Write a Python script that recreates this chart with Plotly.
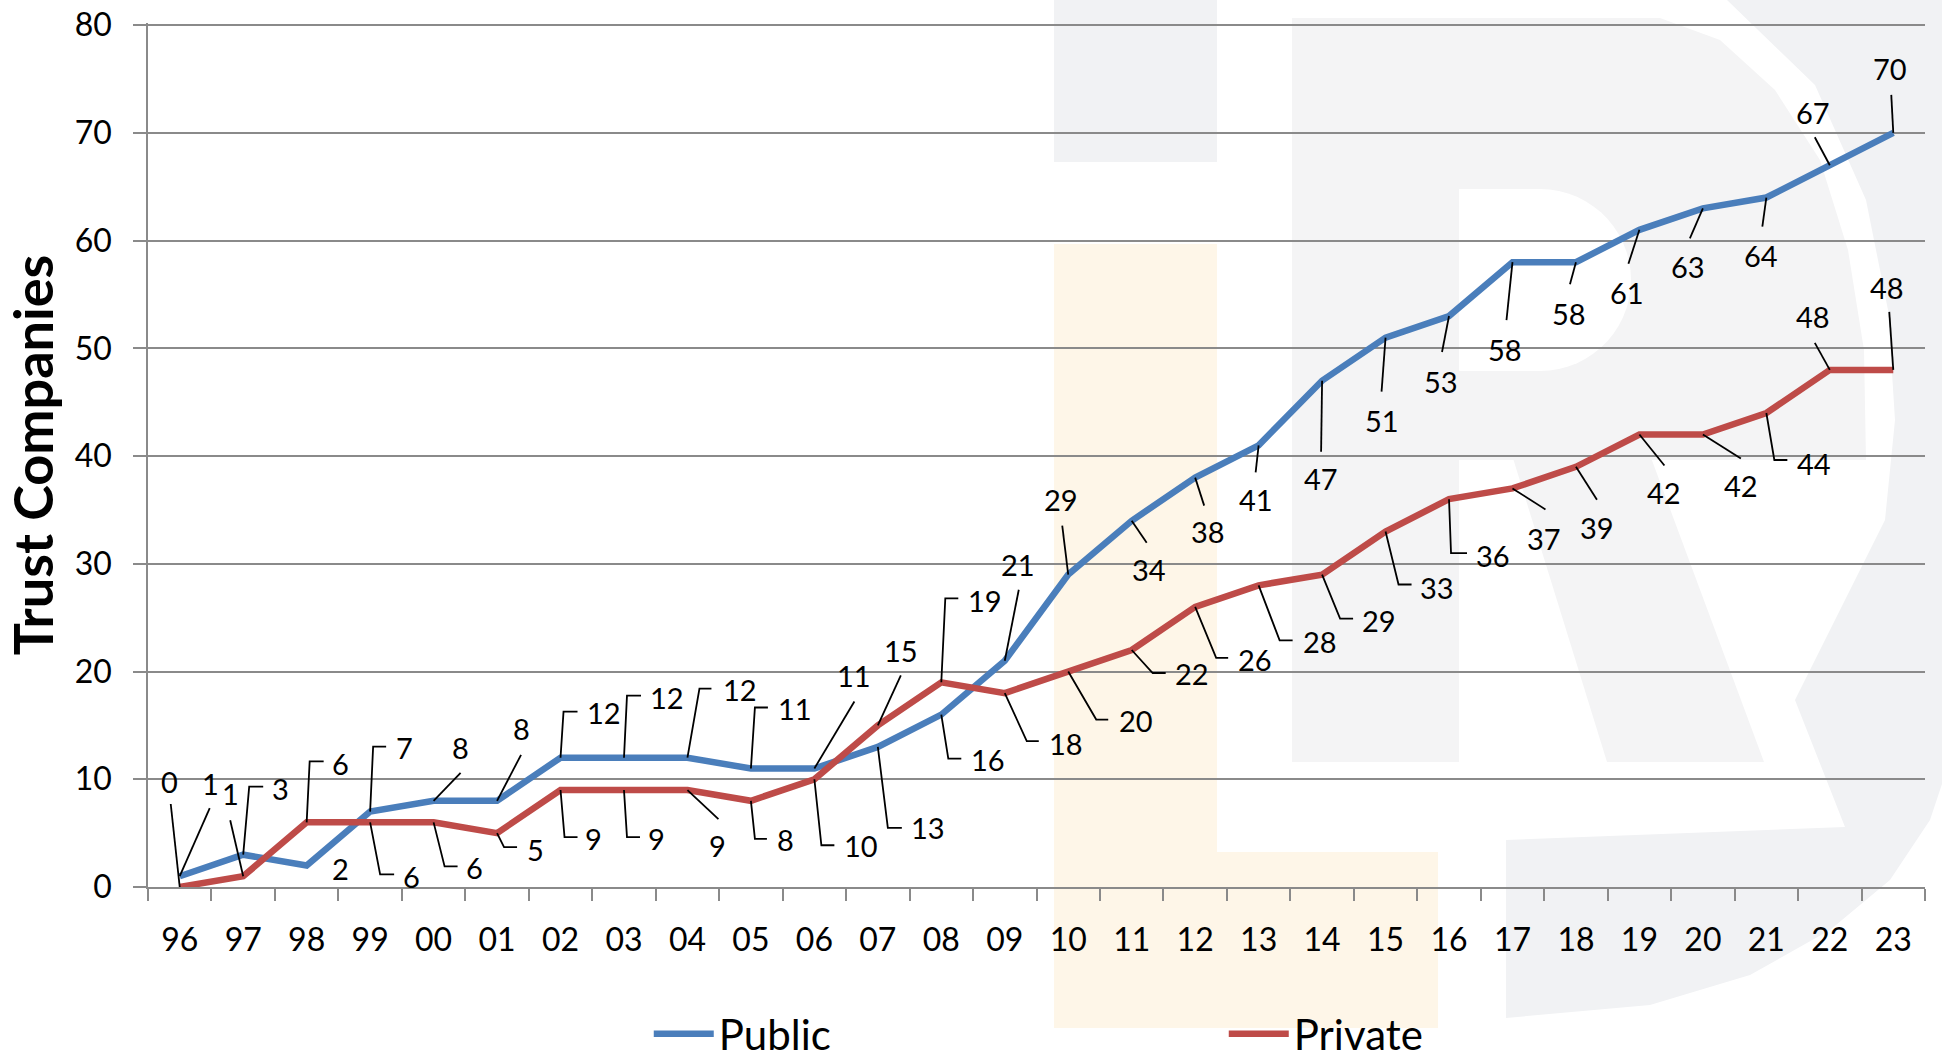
import math
import plotly.graph_objects as go

# ---------------- data ----------------
years = ["96", "97", "98", "99", "00", "01", "02", "03", "04", "05", "06", "07", "08", "09",
         "10", "11", "12", "13", "14", "15", "16", "17", "18", "19", "20", "21", "22", "23"]
public = [1, 3, 2, 7, 8, 8, 12, 12, 12, 11, 11, 13, 16, 21, 29, 34, 38, 41, 47, 51, 53, 58, 58,
          61, 63, 64, 67, 70]
private = [0, 1, 6, 6, 6, 5, 9, 9, 9, 8, 10, 15, 19, 18, 20, 22, 26, 28, 29, 33, 36, 37, 39,
           42, 42, 44, 48, 48]
y_tick_values = [0, 10, 20, 30, 40, 50, 60, 70, 80]
series_names = ["Public", "Private"]
y_title = "Trust Companies"

# ---------------- label placement (pixel offsets from each point, y down) ----------------
# (label dx, label dy, leader polyline points)
public_label_layout = [
    (31, -93, [(30, -68)]), (37, -66, [(6, -68), (20, -68)]), (34, 3, []),
    (34, -64, [(3, -65), (16, -65)]), (27, -53, [(27, -28)]), (24, -72, [(24, -46)]),
    (43, -45, [(3, -46), (17, -46)]), (43, -60, [(3, -62), (17, -62)]),
    (53, -68, [(12, -69), (24, -69)]), (44, -60, [(4, -61), (17, -61)]),
    (40, -93, [(40, -67)]), (50, 81, [(10, 81), (24, 81)]), (47, 45, [(7, 44), (20, 44)]),
    (13, -96, [(14, -71)]), (-7, -75, [(-6, -49)]), (17, 49, [(15, 22)]), (13, 54, [(9, 28)]),
    (-3, 54, [(-3, 27)]), (-1, 98, [(-1, 71)]), (-4, 83, [(-4, 54)]), (-8, 65, [(-7, 36)]),
    (-7, 87, [(-6, 58)]), (-7, 51, [(-6, 22)]), (-12, 63, [(-11, 34)]), (-15, 58, [(-13, 30)]),
    (-5, 58, [(-4, 29)]), (-17, -53, [(-15, -28)]), (-3, -64, [(-2, -38)]),
]
private_label_layout = [
    (-10, -106, [(-9, -83)]), (-13, -83, [(-13, -56)]), (34, -59, [(3, -61), (17, -61)]),
    (41, 54, [(10, 52), (24, 52)]), (41, 45, [(11, 44), (24, 44)]), (38, 16, [(7, 14), (20, 14)]),
    (33, 48, [(4, 47), (17, 47)]), (33, 48, [(3, 47), (16, 47)]), (30, 55, [(31, 29)]),
    (35, 39, [(4, 38), (16, 38)]), (47, 66, [(7, 66), (20, 66)]), (23, -75, [(23, -50)]),
    (44, -82, [(4, -84), (17, -84)]), (61, 50, [(22, 48), (34, 48)]),
    (68, 49, [(28, 48), (40, 48)]), (60, 24, [(21, 23), (34, 23)]),
    (60, 53, [(21, 51), (33, 51)]), (61, 56, [(21, 55), (34, 55)]),
    (57, 46, [(18, 44), (31, 44)]), (51, 56, [(13, 53), (26, 53)]),
    (44, 56, [(2, 54), (18, 54)]), (32, 50, [(33, 21)]), (21, 61, [(21, 33)]),
    (25, 58, [(25, 31)]), (38, 51, [(38, 24)]), (48, 51, [(8, 47), (21, 47)]),
    (-17, -53, [(-15, -27)]), (-6, -82, [(-4, -58)]),
]

# ---------------- geometry / style ----------------
W, H = 1942, 1061
ML, MR, MT, MB = 148, 17, 23, 174
PW, PH = W - ML - MR, H - MT - MB
FONT = "Lato"
BLUE = "#4A7EBB"
RED = "#BE4B48"
GRID = "#8A8A8A"

xpos = list(range(len(years)))  # position of each category on the x axis


def px2paper(x, y):
    """figure pixel -> paper coordinates"""
    return (x - ML) / PW, (H - MB - y) / PH


def poly_path(points):
    pts = [px2paper(x, y) for x, y in points]
    return "M" + " L".join(f"{a:.5f},{b:.5f}" for a, b in pts) + " Z"


def arc(cx, cy, r, a0, a1, n=40):
    return [(cx + r * math.cos(math.radians(a0 + (a1 - a0) * k / n)),
             cy + r * math.sin(math.radians(a0 + (a1 - a0) * k / n))) for k in range(n + 1)]


fig = go.Figure()

for name, vals, col in [(series_names[0], public, BLUE), (series_names[1], private, RED)]:
    fig.add_trace(go.Scatter(x=xpos, y=vals, name=name, mode="lines",
                             customdata=years, hovertemplate="%{customdata}: %{y}",
                             line=dict(color=col, width=6.5)))

annotations = []
shapes = []

# ---- watermark (decorative background logo) ----
wm_gray = "#F1F2F4"
wm_gray2 = "#F4F4F5"
wm_orange = "#FEF6E8"


def rect_px(x0, y0, x1, y1):
    return poly_path([(x0, y0), (x1, y0), (x1, y1), (x0, y1)])


bg_shapes = [
    (rect_px(1054, 0, 1217, 162), wm_gray),
    (rect_px(1054, 244, 1217, 1028), wm_orange),
    (rect_px(1217, 852, 1438, 1028), wm_orange),
    (rect_px(1292, 18, 1459, 762), wm_gray2),
]
bowl = [(1459, 18), (1660, 18), (1720, 40), (1775, 90), (1820, 160), (1848, 250), (1864, 350),
        (1866, 460), (1459, 460)]
bg_shapes.append((poly_path(bowl), wm_gray2))
bg_shapes.append((poly_path([(1512, 455), (1650, 455), (1764, 762), (1607, 762)]), wm_gray2))
ring = [(1727, 0), (1950, 0), (1950, 760), (1930, 820), (1890, 880), (1830, 930), (1750, 975),
        (1650, 1005), (1506, 1018), (1506, 840), (1845, 827), (1795, 700), (1845, 600),
        (1885, 520), (1895, 420), (1888, 310), (1866, 200), (1815, 85)]
bg_shapes.append((poly_path(ring), wm_gray))
hole = [(1459, 189), (1540, 189)] + arc(1540, 280, 91, -90, 90, 30) + [(1459, 371)]
bg_shapes.append((poly_path(hole), "#FFFFFF"))

for path, col in bg_shapes:
    shapes.append(dict(type="path", xref="paper", yref="paper", path=path,
                       fillcolor=col, line=dict(width=0), layer="below"))

# ---- data labels with leader lines ----
for vals, layout in [(public, public_label_layout), (private, private_label_layout)]:
    for xp, v, (dx, dy, leader) in zip(xpos, vals, layout):
        annotations.append(dict(x=xp, y=v, xref="x", yref="y", text=str(v), showarrow=False,
                                xshift=dx, yshift=-dy,
                                font=dict(family=FONT, size=29, color="#000000")))
        if leader:
            path = "M0,0" + "".join(f" L{px},{-py}" for px, py in leader)
            shapes.append(dict(type="path", xref="x", yref="y", xsizemode="pixel",
                               ysizemode="pixel", xanchor=xp, yanchor=v, path=path,
                               line=dict(color="#000000", width=1.8), layer="above"))

fig.update_layout(
    width=W, height=H,
    margin=dict(l=ML, r=MR, t=MT, b=MB, autoexpand=False),
    paper_bgcolor="#FFFFFF", plot_bgcolor="rgba(0,0,0,0)",
    font=dict(family=FONT, color="#000000"),
    showlegend=True,
    legend=dict(orientation="h", x=0.2818, xanchor="left", y=-0.1701, yanchor="middle",
                font=dict(family=FONT, size=42, color="#000000"),
                entrywidth=500, itemwidth=60, bgcolor="rgba(0,0,0,0)"),
    annotations=annotations,
    shapes=shapes,
    xaxis=dict(range=[-0.5, len(years) - 0.5], tickmode="array", tickvals=xpos, ticktext=years,
               ticks="", showline=True, linecolor=GRID, linewidth=1.5, showgrid=False,
               zeroline=False, tickangle=0, ticklabeloverflow="allow",
               minor=dict(tickmode="array", tickvals=[i - 0.5 for i in range(len(years) + 1)],
                          ticks="outside", ticklen=12, tickcolor=GRID, tickwidth=1.5,
                          showgrid=False),
               tickfont=dict(family=FONT, size=32, color="#000000"), ticklabelstandoff=24),
    yaxis=dict(range=[0, 80.2], tickvals=y_tick_values, ticks="outside", ticklen=13,
               tickcolor=GRID, tickwidth=1.5, showline=True, linecolor=GRID, linewidth=1.5,
               showgrid=True, gridcolor=GRID, gridwidth=1.5, zeroline=False,
               ticklabeloverflow="allow",
               tickfont=dict(family=FONT, size=32, color="#000000"), ticklabelstandoff=15,
               title=dict(text=y_title, standoff=8,
                          font=dict(family=FONT, size=54, color="#000000", weight="bold"))),
)

# remove the default page margin so the figure fills the browser window exactly
fig.write_html("out.html",
               config={"displayModeBar": False},
               post_script="document.body.style.margin='0px';document.body.style.overflow='hidden';")
